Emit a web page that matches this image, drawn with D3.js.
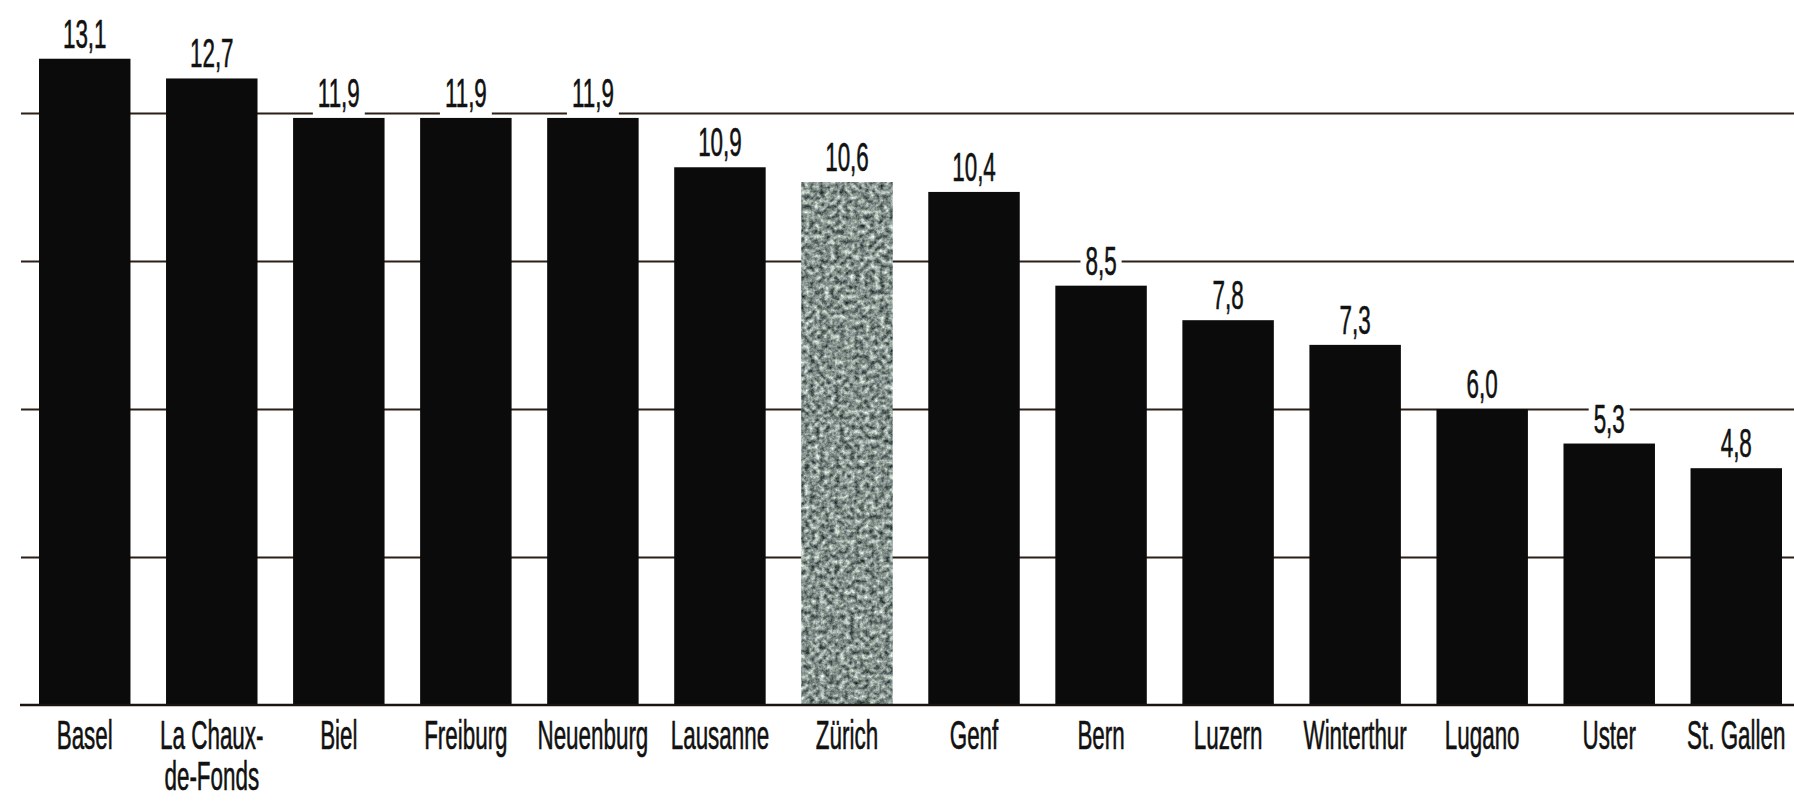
<!DOCTYPE html>
<html lang="de">
<head>
<meta charset="utf-8">
<title>Städtevergleich</title>
<script src="https://cdn.jsdelivr.net/npm/d3@7"></script>
<style>
  html, body { margin: 0; padding: 0; background: #fff; }
  svg { display: block; }
  text { font-family: "Liberation Sans", Arial, sans-serif; fill: #111; }
</style>
</head>
<body>
<svg id="chart" width="1794" height="801"></svg>
<script>
// Städte, sortiert nach Wert
const cities = ["Basel", "La Chaux-de-Fonds", "Biel", "Freiburg", "Neuenburg", "Lausanne",
  "Zürich", "Genf", "Bern", "Luzern", "Winterthur", "Lugano", "Uster", "St. Gallen"];
const values = [13.1, 12.7, 11.9, 11.9, 11.9, 10.9, 10.6, 10.4, 8.5, 7.8, 7.3, 6.0, 5.3, 4.8];
// Beschriftung unter den Balken (Zeilenumbruch mit \n)
const cityLabels = ["Basel", "La Chaux-\nde-Fonds", "Biel", "Freiburg", "Neuenburg", "Lausanne",
  "Zürich", "Genf", "Bern", "Luzern", "Winterthur", "Lugano", "Uster", "St. Gallen"];
const gridTicks = [3, 6, 9, 12];
const highlight = "Zürich";

const W = 1794, H = 801;
const svg = d3.select("#chart");

// schmale Schrift: horizontal gestauchte Liberation Sans
const squeeze = 0.56;
const fontSize = 40;
const fmt = v => d3.format(".1f")(v).replace(".", ",");

const x = d3.scaleBand().domain(cities).range([39, 1782]).paddingInner(0.28).paddingOuter(0);
const y = d3.scaleLinear().domain([0, 12]).range([705, 113]);

// Körnige, fleckige Füllung für den hervorgehobenen Balken
const defs = svg.append("defs");
const f = defs.append("filter").attr("id", "grain")
  .attr("color-interpolation-filters", "sRGB")
  .attr("x", 0).attr("y", 0).attr("width", 1).attr("height", 1);
f.append("feTurbulence").attr("type", "fractalNoise").attr("baseFrequency", 0.2)
  .attr("numOctaves", 5).attr("seed", 11).attr("result", "noise");
f.append("feColorMatrix").attr("in", "noise").attr("type", "matrix")
  .attr("values", "1.1 0 0 0 -0.03  1.1 0 0 0 0.02  1.05 0.05 0 0 0.0  0 0 0 0 1")
  .attr("result", "tint");
f.append("feComposite").attr("in", "tint").attr("in2", "SourceGraphic").attr("operator", "in");

// Rasterlinien
const grid = svg.append("g")
  .attr("transform", `translate(${W},0)`)
  .call(d3.axisLeft(y).tickValues(gridTicks).tickSize(W - 21).tickFormat(""));
grid.select(".domain").remove();
grid.selectAll(".tick line")
  .attr("stroke", "#2b1f18").attr("stroke-width", 1.8);

// Balken
svg.append("g").selectAll("rect")
  .data(cities.map((c, i) => ({ city: c, value: values[i] })))
  .join("rect")
  .attr("x", d => x(d.city))
  .attr("y", d => y(d.value))
  .attr("width", x.bandwidth())
  .attr("height", d => y(0) - y(d.value))
  .attr("fill", d => d.city === highlight ? "#7d8b8a" : "#0b0b0b")
  .attr("filter", d => d.city === highlight ? "url(#grain)" : null);

// Grundlinie
svg.append("line")
  .attr("x1", 20).attr("x2", W)
  .attr("y1", y(0)).attr("y2", y(0))
  .attr("stroke", "#1a1410").attr("stroke-width", 2.6);

// Wertbeschriftung mit weissem Hintergrund
const vl = svg.append("g").selectAll("g")
  .data(cities.map((c, i) => ({ city: c, value: values[i] })))
  .join("g")
  .attr("transform", d => `translate(${x(d.city) + x.bandwidth() / 2},${y(d.value) - 11}) scale(${squeeze},1)`);
vl.append("rect").attr("fill", "#fff");
vl.append("text")
  .attr("text-anchor", "middle")
  .attr("font-size", fontSize)
  .attr("stroke", "#111").attr("stroke-width", 0.6)
  .text(d => fmt(d.value));
vl.each(function () {
  const g = d3.select(this);
  const b = g.select("text").node().getBBox();
  const pad = 5 / squeeze;
  g.select("rect")
    .attr("x", b.x - pad).attr("width", b.width + 2 * pad)
    .attr("y", b.y).attr("height", b.height);
});

// Städtenamen
const xa = svg.append("g")
  .attr("transform", `translate(0,${y(0)})`)
  .call(d3.axisBottom(x).tickSize(0).tickFormat((d, i) => cityLabels[i]));
xa.select(".domain").remove();
xa.selectAll(".tick text").each(function (d) {
  const t = d3.select(this);
  const lines = cityLabels[cities.indexOf(d)].split("\n");
  t.text(null)
    .attr("y", null).attr("dy", null)
    .attr("fill", "#111")
    .attr("stroke", "#111").attr("stroke-width", 0.6)
    .attr("font-size", fontSize)
    .attr("font-family", "Liberation Sans, Arial, sans-serif")
    .attr("transform", `translate(0,44) scale(${squeeze},1)`);
  lines.forEach((ln, k) => {
    t.append("tspan").attr("x", 0).attr("y", k * 41).text(ln);
  });
});
</script>
</body>
</html>
